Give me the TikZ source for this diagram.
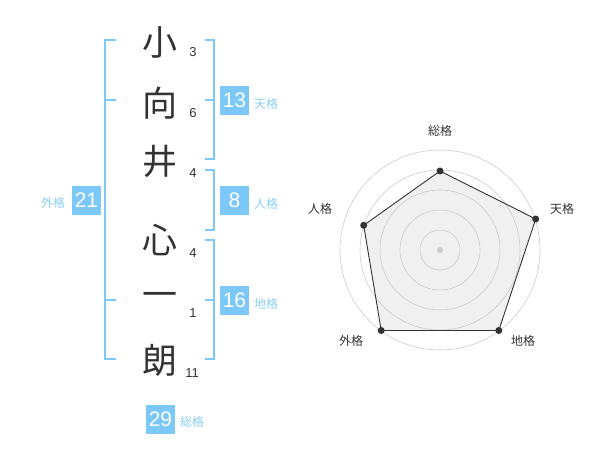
\documentclass[tikz,border=0pt]{standalone}
\usepackage{fontspec}
\usetikzlibrary{calc}
\setmainfont{Liberation Sans}
\newfontfamily\jp{Noto Sans CJK JP}
\definecolor{kblue}{HTML}{7CC8F8}
\definecolor{lblue}{HTML}{8ACFF2}
\definecolor{ink}{HTML}{333333}
\definecolor{ring}{HTML}{CCCCCC}
\definecolor{area}{HTML}{F0F0F0}
\begin{document}
\begin{tikzpicture}[x=1pt,y=-1pt,
  kanji/.style={font=\jp\fontsize{35}{35}\selectfont, text=ink, inner sep=0pt},
  strokes/.style={font=\fontsize{13}{13}\selectfont, text=ink, inner sep=0pt},
  numbox/.style={fill=kblue, text=white, minimum width=29pt, minimum height=29pt, inner sep=0pt, font=\fontsize{21}{21}\selectfont},
  kaku/.style={font=\jp\fontsize{12}{12}\selectfont, text=lblue, inner sep=0pt},
  brk/.style={draw=kblue, line width=1.6pt},
  ringc/.style={draw=ring, line width=0.6pt},
  rlabel/.style={font=\jp\fontsize{12}{12}\selectfont, text=ink, inner sep=0pt},
  dot/.style={circle, fill=ink, inner sep=0pt, minimum size=7pt}]
\useasboundingbox (0,0) rectangle (600,470);
% characters
\node[kanji] (c1) at (160,42) {小};
\node[kanji] (c2) at (160,103) {向};
\node[kanji] (c3) at (160,161) {井};
\node[kanji] (c4) at (160,240) {心};
\node[kanji] (c5) at (160,300) {一};
\node[kanji] (c6) at (160,360) {朗};
\node[strokes] (s1) at (193,52) {3};
\node[strokes] (s2) at (193,113) {6};
\node[strokes] (s3) at (193,173) {4};
\node[strokes] (s4) at (193,253) {4};
\node[strokes] (s5) at (193,313) {1};
\node[strokes] (s6) at (192,373) {11};
% brackets
\draw[brk] (116,40) -- (105,40) -- (105,359) -- (116,359);
\draw[brk] (105,100) -- (116,100);
\draw[brk] (105,300) -- (116,300);
\draw[brk] (205,40) -- (214,40) -- (214,159) -- (205,159);
\draw[brk] (205,100) -- (214,100);
\draw[brk] (205,170) -- (214,170) -- (214,230) -- (205,230);
\draw[brk] (205,240) -- (214,240) -- (214,359) -- (205,359);
\draw[brk] (205,300) -- (214,300);
% boxes
\node[numbox] (ten) at (234.5,100.5) {13};
\node[numbox] (jin) at (234.5,200.5) {8};
\node[numbox] (chi) at (234.5,300.5) {16};
\node[numbox] (gai) at (86.5,200.5) {21};
\node[numbox] (sou) at (160.5,419) {29};
\node[kaku] (tenl) at (266,104) {天格};
\node[kaku] (jinl) at (266,204) {人格};
\node[kaku] (chil) at (266,304) {地格};
\node[kaku] (gail) at (53,203) {外格};
\node[kaku] (soul) at (192,422) {総格};
% radar
\coordinate (O) at (440,250);
\coordinate (p1) at ($(O)+(0,-79)$);
\coordinate (p2) at ($(O)+(95.7,-31)$);
\coordinate (p3) at ($(O)+(58.8,80.5)$);
\coordinate (p4) at ($(O)+(-58.8,80.5)$);
\coordinate (p5) at ($(O)+(-76.3,-24.7)$);
\fill[area] (p1) -- (p2) -- (p3) -- (p4) -- (p5) -- cycle;
\foreach \r in {20,40,60,80,100} \draw[ringc] (O) circle[radius=\r];
\draw[ink, line width=0.9pt] (p1) -- (p2) -- (p3) -- (p4) -- (p5) -- cycle;
\node[circle, fill=ring, inner sep=0pt, minimum size=6pt] (ctr) at (O) {};
\foreach \p in {p1,p2,p3,p4,p5} \node[dot] at (\p) {};
\node[rlabel] (r1) at (440,131) {総格};
\node[rlabel] (r2) at (562,209) {天格};
\node[rlabel] (r3) at (523,341) {地格};
\node[rlabel] (r4) at (351,341) {外格};
\node[rlabel] (r5) at (320,209) {人格};
\end{tikzpicture}
\end{document}
